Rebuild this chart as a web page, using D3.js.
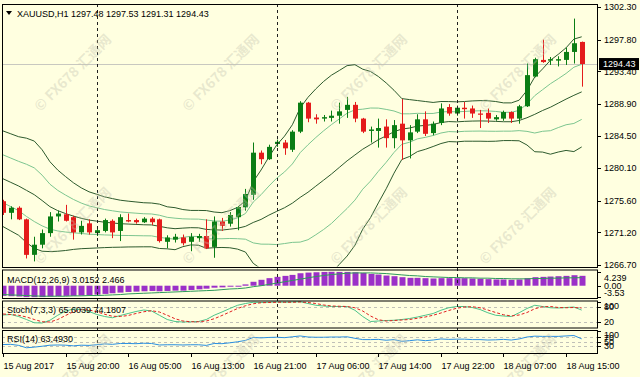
<!DOCTYPE html>
<html><head><meta charset="utf-8">
<script src="https://cdn.jsdelivr.net/npm/d3@7"></script>
<style>body{margin:0;background:#ffffe0;overflow:hidden}svg{display:block}</style>
</head><body>
<svg id="c" width="640" height="377"></svg>
<script>
// ---------- DATA ----------
const symbol = "XAUUSD,H1";
const opens  = [1275.5,1273.9,1274.6,1273.0,1268.1,1269.5,1271.1,1273.4,1273.7,1273.3,1271.2,1272.45,1271.1,1271.4,1272.8,1271.4,1272.9,1272.9,1272.6,1273.1,1273.0,1269.9,1270.2,1270.5,1269.9,1270.4,1270.7,1269.2,1272.7,1272.4,1273.3,1274.66,1276.4,1282.2,1281.3,1283.4,1283.6,1282.6,1285.1,1289.1,1287.05,1286.9,1287.0,1287.3,1288.1,1288.8,1286.9,1285.2,1285.2,1285.8,1284.2,1286.2,1283.9,1285.1,1286.8,1284.9,1286.3,1288.5,1287.6,1288.4,1288.3,1287.6,1287.7,1286.8,1286.9,1287.8,1286.9,1288.6,1292.7,1295.0,1294.9,1294.9,1295.0,1296.1,1297.48];
const highs  = [1275.7,1274.8,1274.8,1273.1,1270.6,1271.6,1274.0,1274.2,1275.0,1273.5,1272.8,1273.0,1271.9,1273.1,1273.0,1273.7,1273.8,1273.1,1273.3,1273.3,1273.1,1270.8,1271.0,1270.9,1271.1,1271.0,1273.0,1273.4,1273.2,1274.0,1274.85,1277.2,1283.6,1282.5,1283.3,1284.0,1283.95,1285.3,1289.3,1289.2,1287.5,1287.4,1288.0,1289.1,1289.9,1289.2,1287.0,1285.8,1286.9,1286.8,1286.7,1289.6,1286.0,1287.5,1287.9,1286.5,1289.0,1288.9,1288.7,1289.2,1288.7,1288.1,1288.3,1287.4,1288.0,1287.9,1288.8,1294.5,1295.3,1297.8,1295.4,1295.5,1296.7,1300.7,1297.53];
const lows   = [1273.6,1273.0,1272.9,1267.6,1267.2,1269.0,1270.6,1272.7,1272.7,1270.2,1270.9,1270.9,1270.7,1271.2,1270.4,1270.0,1272.6,1272.4,1272.5,1272.2,1269.8,1269.0,1269.8,1269.4,1268.6,1269.9,1268.9,1267.7,1271.4,1272.0,1271.5,1274.2,1275.7,1280.6,1281.2,1283.0,1281.9,1282.3,1284.9,1286.4,1286.2,1286.5,1286.5,1286.2,1287.0,1286.4,1284.9,1283.6,1282.9,1282.9,1282.8,1281.2,1281.4,1284.9,1284.5,1284.6,1286.0,1287.3,1287.3,1286.9,1287.0,1285.6,1286.3,1286.6,1286.6,1286.3,1286.2,1288.5,1292.6,1294.6,1294.3,1294.1,1294.3,1294.5,1291.31];
const closes = [1273.9,1274.6,1273.0,1268.1,1269.5,1271.1,1273.4,1273.8,1272.8,1271.2,1272.1,1271.2,1271.5,1272.9,1271.2,1273.3,1272.7,1272.6,1273.1,1272.6,1270.0,1270.5,1270.6,1269.7,1270.6,1270.7,1269.0,1272.7,1272.1,1273.6,1274.7,1276.5,1282.2,1281.3,1283.0,1283.7,1282.8,1285.1,1289.1,1286.9,1286.8,1287.1,1287.3,1287.9,1288.8,1286.9,1285.1,1285.4,1285.6,1284.2,1286.0,1283.9,1285.0,1286.8,1284.8,1286.2,1288.3,1287.6,1288.4,1288.2,1287.6,1287.5,1286.9,1287.1,1287.8,1286.9,1288.6,1292.9,1295.1,1294.7,1295.1,1295.1,1296.1,1297.3,1294.43];
// Bollinger middle line and one standard deviation (bands at 1 and 2 deviations)
const bbMid = [1278.6,1278.1,1277.6,1277.0,1276.4,1275.6,1274.75,1274.2,1273.8,1273.45,1273.15,1272.9,1272.75,1272.6,1272.5,1272.4,1272.35,1272.3,1272.25,1272.23,1272.04,1271.83,1271.71,1271.79,1271.85,1271.83,1271.61,1271.55,1271.52,1271.64,1271.77,1272.03,1272.57,1272.99,1273.58,1274.10,1274.60,1275.23,1276.03,1276.74,1277.58,1278.41,1279.25,1280.16,1281.07,1281.88,1282.68,1283.32,1283.99,1284.52,1285.09,1285.46,1285.60,1285.87,1285.96,1286.09,1286.36,1286.49,1286.45,1286.52,1286.56,1286.58,1286.56,1286.52,1286.47,1286.47,1286.64,1287.02,1287.49,1288.02,1288.47,1289.03,1289.59,1290.11,1290.59];
const bbDev = [3.3,3.35,3.4,3.6,3.7,3.5,3.1,2.8,2.55,2.3,2.1,1.95,1.85,1.75,1.68,1.62,1.58,1.55,1.52,1.51,1.53,1.45,1.45,1.28,1.19,1.20,1.30,1.23,1.20,1.28,1.44,1.77,2.82,3.41,4.01,4.58,4.94,5.41,6.17,6.55,6.71,6.81,6.82,6.69,6.57,6.23,5.52,5.04,4.36,3.65,2.86,2.10,1.96,1.76,1.65,1.52,1.45,1.38,1.38,1.37,1.39,1.40,1.40,1.37,1.30,1.30,1.40,1.88,2.58,2.87,3.24,3.37,3.54,3.88,3.80];
const macdMain = [-3.1,-3.2,-3.3,-3.5,-3.53,-3.5,-3.3,-3.2,-3.1,-3.1,-3.0,-2.9,-2.7,-2.5,-2.3,-2.1,-1.9,-1.8,-1.7,-1.6,-1.7,-1.6,-1.5,-1.5,-1.3,-1.1,-0.9,-0.6,-0.5,-0.3,-0.1,0.4,1.2,1.8,2.3,2.7,3.0,3.3,3.8,4.0,4.1,4.2,4.239,4.2,4.2,4.1,3.9,3.6,3.4,3.1,2.9,2.6,2.4,2.4,2.3,2.2,2.3,2.3,2.3,2.3,2.2,2.1,2.0,1.9,1.9,1.8,1.9,2.3,2.6,2.7,2.8,2.9,3.0,3.2,3.0152];
const macdSignal = [-2.7,-2.8,-2.9,-3.0,-3.1,-3.2,-3.2,-3.2,-3.2,-3.1,-3.1,-3.0,-3.0,-2.9,-2.8,-2.7,-2.5,-2.4,-2.3,-2.2,-2.1,-2.0,-1.9,-1.8,-1.7,-1.6,-1.5,-1.4,-1.2,-1.0,-0.9,-0.7,-0.3,0.0,0.4,0.8,1.2,1.6,2.0,2.4,2.8,3.1,3.4,3.6,3.8,3.9,3.9,3.9,3.8,3.7,3.5,3.3,3.1,3.0,2.8,2.7,2.6,2.5,2.5,2.4,2.4,2.3,2.3,2.2,2.2,2.1,2.1,2.1,2.2,2.2,2.3,2.3,2.4,2.4,2.466];
const stochK = [46,48,40,28,15,14,25,45,62,70,68,60,48,40,35,44,52,60,66,62,45,28,20,18,19,20,28,45,58,72,85,92,97,96,97,98,97,98,99,92,85,82,80,80,80,65,40,20,22,24,25,28,32,38,45,52,65,75,80,80,76,68,55,45,42,40,55,72,85,80,75,74,76,78,65.6039];
const stochD = [50,48,45,38,28,19,18,28,44,59,67,66,59,49,41,40,44,52,59,63,58,45,31,22,19,19,22,31,44,58,72,83,91,95,96,97,97,97,98,96,92,86,82,81,80,75,62,42,27,22,24,26,28,33,38,45,54,64,73,78,79,75,66,56,47,42,46,56,71,79,80,76,75,76,74.1807];
const rsi = [37,38,33,22,25,29,34,35,34,31,34,33,36,40,38,42,42,41,43,42,35,36,36,35,36,36,33,42,41,45,50,56,70,68,70,71,69,73,77,72,71,71,72,72,73,66,60,60,61,57,60,52,55,59,55,58,63,61,62,62,60,60,58,59,61,58,63,72,76,75,75,75,77,79,63.4930];
const priceTicks = [1302.30,1297.80,1293.40,1288.90,1284.50,1280.10,1275.60,1271.20,1266.70];
const macdTicks = [4.239,0.00,-3.53];
const macdTickText = ["4.239","0.00","-3.53"];
const stochTicks = [100,80,20];
const stochLevels = [80,20];
const rsiTicks = [100,70,50,30];
const rsiLevels = [70,50,30];
const timeTickIdx = [0,8,16,24,32,40,48,56,64,72];
const timeTickLabels = ["15 Aug 2017","15 Aug 20:00","16 Aug 05:00","16 Aug 13:00","16 Aug 21:00","17 Aug 06:00","17 Aug 14:00","17 Aug 22:00","18 Aug 07:00","18 Aug 15:00"];
const daySeparatorIdx = [12,35,58];
const lastPrice = 1294.43;

// ---------- LAYOUT ----------
const FONT = "'Liberation Sans', Arial, sans-serif";
const BG = "#ffffe0";
const L = 2, R = 598;
const P = {
  main:  {t:4,   b:267},
  macd:  {t:269.5, b:298},
  stoch: {t:300.5, b:327.5},
  rsi:   {t:330, b:353}
};
const svg = d3.select("#c");
svg.append("rect").attr("width",640).attr("height",377).attr("fill",BG);

const n = closes.length;
const x = d3.scaleLinear().domain([0, n-1]).range([3, 581.7]);
const yMain = d3.scaleLinear().domain([1266.70, 1302.30]).range([265, 7]);
const yMacd = d3.scaleLinear().domain([-3.53, 4.239]).range([297.3, 271.8]);
const yStoch = d3.scaleLinear().domain([0, 100]).range([326.5, 301.5]);
const yRsi = d3.scaleLinear().domain([0, 100]).range([352.5, 331]);

const defs = svg.append("defs");
Object.entries(P).forEach(([k,p])=>{
  defs.append("clipPath").attr("id","clip-"+k).append("rect")
    .attr("x",L+0.5).attr("y",p.t+0.5).attr("width",R-L-1).attr("height",p.b-p.t-1);
});

// ---------- MAIN PANEL ----------
const gMain = svg.append("g").attr("clip-path","url(#clip-main)");
gMain.append("line").attr("x1",L).attr("x2",R)
  .attr("y1",Math.round(yMain(lastPrice))+0.5).attr("y2",Math.round(yMain(lastPrice))+0.5)
  .attr("stroke","#c8c8c0").attr("stroke-width",1);

const DARK = "#2d5a2d", LIGHT = "#7cc58f";
const bandDefs = [
  {k:2, c:DARK}, {k:1, c:LIGHT}, {k:0, c:DARK}, {k:-1, c:LIGHT}, {k:-2, c:DARK}
];
bandDefs.forEach(b=>{
  const line = d3.line().x((d,i)=>x(i)).y((d,i)=>yMain(bbMid[i] + b.k*bbDev[i]));
  gMain.append("path").datum(bbMid).attr("d",line).attr("fill","none")
    .attr("stroke",b.c).attr("stroke-width",1);
});

const BULL = "#0a7d14", BEAR = "#e41b1b";
const candles = d3.range(n).map(i=>({i,o:opens[i],h:highs[i],l:lows[i],c:closes[i]}));
const cg = gMain.selectAll("g.candle").data(candles).join("g");
cg.append("line")
  .attr("x1",d=>Math.round(x(d.i))+0.5).attr("x2",d=>Math.round(x(d.i))+0.5)
  .attr("y1",d=>yMain(d.h)).attr("y2",d=>yMain(d.l))
  .attr("stroke",d=>d.c>=d.o?BULL:BEAR).attr("stroke-width",1);
cg.append("rect")
  .attr("x",d=>Math.round(x(d.i))-2)
  .attr("width",5)
  .attr("y",d=>Math.min(yMain(d.o),yMain(d.c)))
  .attr("height",d=>Math.max(1.2,Math.abs(yMain(d.o)-yMain(d.c))))
  .attr("fill",d=>d.c>=d.o?BULL:BEAR);

// ---------- MACD ----------
const gMacd = svg.append("g").attr("clip-path","url(#clip-macd)");
gMacd.selectAll("rect").data(macdMain).join("rect")
  .attr("x",(d,i)=>Math.round(x(i))-2.5).attr("width",6)
  .attr("y",d=>Math.min(yMacd(0),yMacd(d)))
  .attr("height",d=>Math.max(1,Math.abs(yMacd(d)-yMacd(0))))
  .attr("fill","#9b30c8");
gMacd.append("path").datum(macdSignal)
  .attr("d",d3.line().x((d,i)=>x(i)).y(d=>yMacd(d)))
  .attr("fill","none").attr("stroke","#2e9a5a").attr("stroke-width",1);

// ---------- STOCH ----------
const gSt = svg.append("g").attr("clip-path","url(#clip-stoch)");
stochLevels.forEach(v=>{
  gSt.append("line").attr("x1",L).attr("x2",R).attr("y1",Math.round(yStoch(v))+0.5).attr("y2",Math.round(yStoch(v))+0.5)
    .attr("stroke","#c0c0b8").attr("stroke-dasharray","3,3");
});
gSt.append("path").datum(stochK).attr("d",d3.line().x((d,i)=>x(i)).y(d=>yStoch(d)))
  .attr("fill","none").attr("stroke","#4cc38a").attr("stroke-width",1);
gSt.append("path").datum(stochD).attr("d",d3.line().x((d,i)=>x(i)).y(d=>yStoch(d)))
  .attr("fill","none").attr("stroke","#e02020").attr("stroke-width",1).attr("stroke-dasharray","3,2");

// ---------- RSI ----------
const gR = svg.append("g").attr("clip-path","url(#clip-rsi)");
rsiLevels.forEach(v=>{
  gR.append("line").attr("x1",L).attr("x2",R).attr("y1",Math.round(yRsi(v))+0.5).attr("y2",Math.round(yRsi(v))+0.5)
    .attr("stroke","#c0c0b8").attr("stroke-dasharray","3,3");
});
gR.append("path").datum(rsi).attr("d",d3.line().x((d,i)=>x(i)).y(d=>yRsi(d)))
  .attr("fill","none").attr("stroke","#2a8ee0").attr("stroke-width",1);

// ---------- day separators ----------
daySeparatorIdx.forEach(i=>{
  const xx = Math.round(x(i))+0.5;
  svg.append("line").attr("x1",xx).attr("x2",xx).attr("y1",P.main.t).attr("y2",P.rsi.b)
    .attr("stroke","#202020").attr("stroke-dasharray","3,3").attr("stroke-width",1);
});

// ---------- watermarks ----------
const wmX = [72, 220, 368, 517], wmY = [72, 225, 372];
wmY.forEach(yy=>wmX.forEach(xx=>{
  svg.append("text").attr("transform",`translate(${xx},${yy}) rotate(-45)`)
    .attr("text-anchor","middle").attr("dominant-baseline","central")
    .attr("font-family","'Noto Sans CJK SC', 'DejaVu Sans', sans-serif").attr("font-size",14).attr("font-weight","bold")
    .attr("fill","#c4c4b0").attr("fill-opacity",0.38)
    .text("© FX678 汇通网");
}));

// ---------- frames ----------
Object.values(P).forEach(p=>{
  svg.append("rect").attr("x",L+0.5).attr("y",p.t+0.5).attr("width",R-L-1).attr("height",p.b-p.t)
    .attr("fill","none").attr("stroke","#000").attr("stroke-width",1);
});

// ---------- right axes ----------
const axisG = svg.append("g").attr("font-family",FONT).attr("font-size",9).attr("fill","#000");
function rightLabels(vals, scale, p, texts){
  vals.forEach((v,k)=>{
    const yy = scale(v);
    axisG.append("line").attr("x1",R).attr("x2",R+3).attr("y1",Math.round(yy)+0.5).attr("y2",Math.round(yy)+0.5).attr("stroke","#000");
    const ty = Math.max(p.t+5, Math.min(p.b-5, yy));
    axisG.append("text").attr("x",R+6).attr("y",ty+3.2).text(texts[k]);
  });
}
rightLabels(priceTicks, yMain, {t:0,b:377}, priceTicks.map(d=>d.toFixed(2)));
rightLabels(macdTicks, yMacd, {t:P.macd.t+3,b:P.macd.b-0.5}, macdTickText);
rightLabels(stochTicks, yStoch, P.stoch, stochTicks.map(String));
rightLabels(rsiTicks, yRsi, P.rsi, rsiTicks.map(String));
const yc = yMain(lastPrice);
axisG.append("rect").attr("x",R+1).attr("y",yc-6).attr("width",40).attr("height",12).attr("fill","#000");
axisG.append("text").attr("x",R+5).attr("y",yc+3.3).attr("fill","#fff").text(lastPrice.toFixed(2));

// ---------- time axis ----------
timeTickIdx.forEach((i,k)=>{
  const xx = Math.round(x(i))+0.5;
  axisG.append("line").attr("x1",xx).attr("x2",xx).attr("y1",P.rsi.b).attr("y2",P.rsi.b+4).attr("stroke","#000");
  axisG.append("text").attr("x",xx).attr("y",369).text(timeTickLabels[k]);
});

// ---------- titles ----------
const tg = svg.append("g").attr("font-family",FONT).attr("font-size",9).attr("fill","#000");
tg.append("path").attr("d","M6,11 L12,11 L9,15 Z").attr("fill","#000");
const last = n-1;
tg.append("text").attr("x",17).attr("y",17)
  .text(`${symbol}  ${opens[last].toFixed(2)} ${highs[last].toFixed(2)} ${lows[last].toFixed(2)} ${closes[last].toFixed(2)}`);
tg.append("text").attr("x",7).attr("y",283).text(`MACD(12,26,9) ${macdMain[last].toFixed(4)} ${macdSignal[last].toFixed(3)}`);
tg.append("text").attr("x",7).attr("y",313).text(`Stoch(7,3,3) ${stochK[last].toFixed(4)} ${stochD[last].toFixed(4)}`);
tg.append("text").attr("x",7).attr("y",341.5).text(`RSI(14) ${rsi[last].toFixed(4)}`);
</script>
</body></html>
